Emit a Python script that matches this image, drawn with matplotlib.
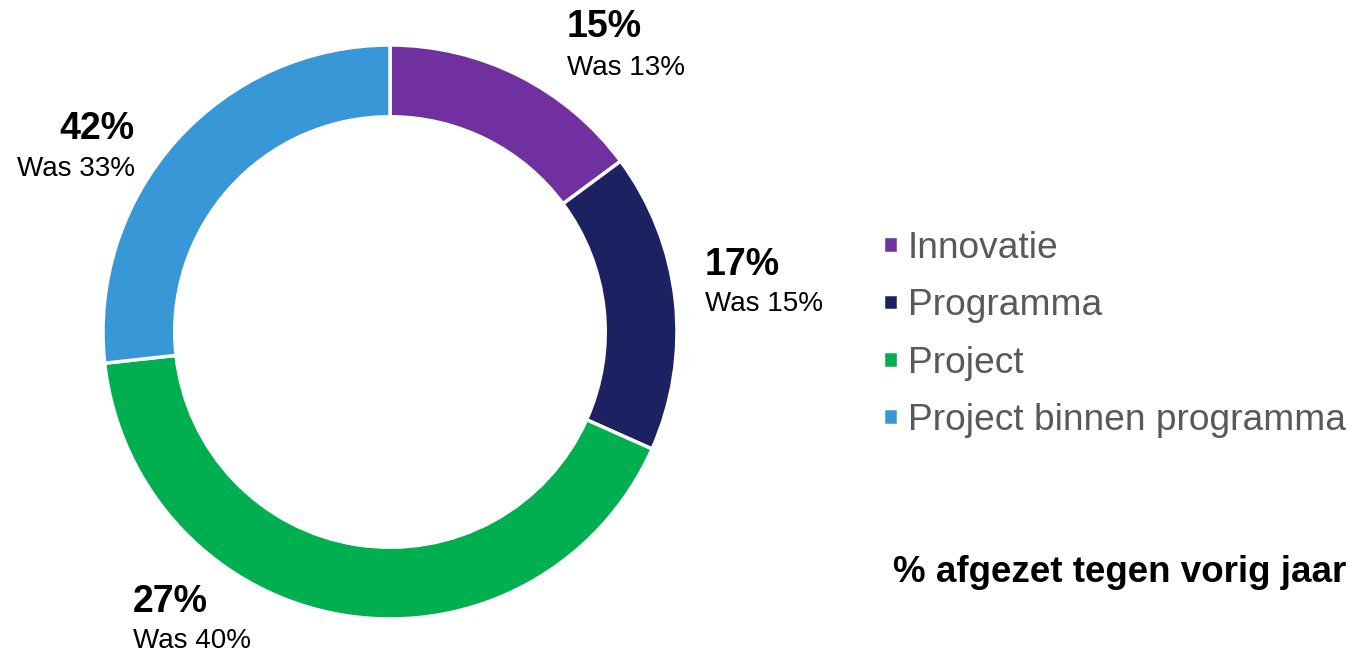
import matplotlib.pyplot as plt

plt.rcParams['font.family'] = ['Liberation Sans', 'DejaVu Sans']

# aandeel per soort (zoals getekend in de ring), labels zoals in de bron
categories = ['Innovatie', 'Programma', 'Project', 'Project binnen programma']
values = [15, 17, 42, 27]
colors = ['#7030A0', '#1B2161', '#00B050', '#3897D6']
pct_labels = ['15%', '17%', '27%', '42%']
was_labels = ['Was 13%', 'Was 15%', 'Was 40%', 'Was 33%']

W, H = 1352, 652
fig = plt.figure(figsize=(W / 100, H / 100), dpi=100)

# ring: middelpunt (390, 332), straal 287 px
cx, cy, r = 390, 332, 287
ax = fig.add_axes([(cx - r) / W, (H - cy - r) / H, 2 * r / W, 2 * r / H])
wedges, _ = ax.pie(values, colors=colors, startangle=90, counterclock=False,
                   radius=1, wedgeprops=dict(width=0.25, edgecolor='white', linewidth=2.5))
ax.set_xlim(-1, 1)
ax.set_ylim(-1, 1)
ax.set_aspect('equal')
ax.axis('off')


def px(x, y):
    return x / W, 1 - y / H


# percentage labels: (x, basislijn groot, basislijn klein, uitlijning)
label_pos = [(567, 37, 75, 'left'), (705, 275, 311, 'left'),
             (133, 612, 648, 'left'), (135, 139, 176, 'right')]
for (x, y1, y2, ha), p, w in zip(label_pos, pct_labels, was_labels):
    fig.text(*px(x, y1), p, fontsize=27, fontweight='bold', ha=ha, va='baseline', color='black')
    fig.text(*px(x, y2), w, fontsize=20, ha=ha, va='baseline', color='black')

# blokjes in de legenda ongeveer vierkant (14 px)
leg = fig.legend(wedges, categories, loc='upper left', bbox_to_anchor=px(883, 231),
                 frameon=False, fontsize=26.7, handlelength=0.4, handleheight=0.32,
                 handletextpad=0.27, labelspacing=0.6, borderaxespad=0, borderpad=0)
for t in leg.get_texts():
    t.set_color('#595959')

fig.text(*px(1346, 582), '% afgezet tegen vorig jaar', fontsize=26.5, fontweight='bold',
         ha='right', va='baseline', color='black')

fig.savefig('out.png', dpi=100, facecolor='white')
